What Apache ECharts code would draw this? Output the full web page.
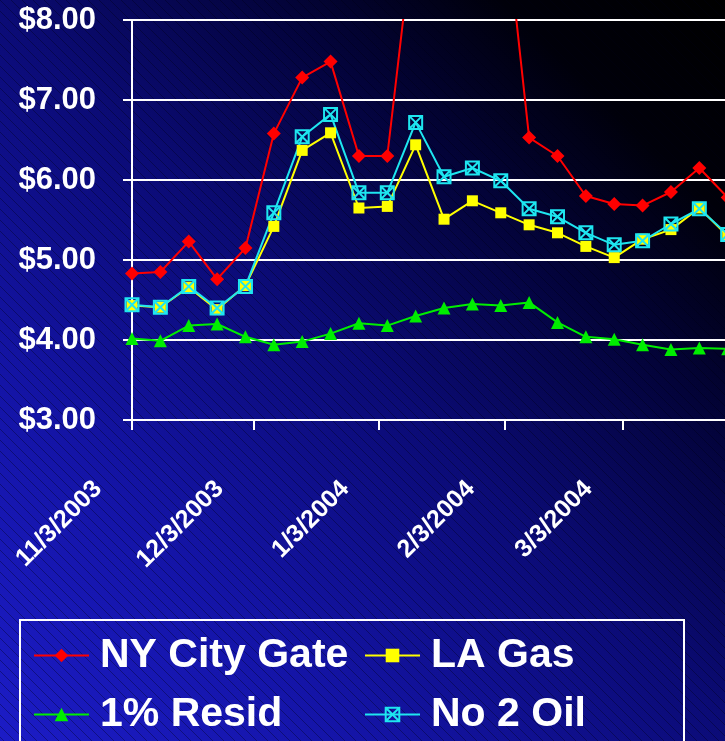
<!DOCTYPE html>
<html>
<head>
<meta charset="utf-8">
<script src="https://cdn.jsdelivr.net/npm/echarts@6/dist/echarts.min.js"></script>
<style>
  html, body { margin: 0; padding: 0; }
  #chart { width: 725px; height: 741px; }
</style>
</head>
<body>
<div id="chart"></div>
<script>
// weekly dates (Mondays)
const weeks = ['11/3/2003', '11/10/2003', '11/17/2003', '11/24/2003', '12/1/2003', '12/8/2003',
  '12/15/2003', '12/22/2003', '12/29/2003', '1/5/2004', '1/12/2004', '1/19/2004', '1/26/2004',
  '2/2/2004', '2/9/2004', '2/16/2004', '2/23/2004', '3/1/2004', '3/8/2004', '3/15/2004',
  '3/22/2004', '3/29/2004'];
// $ values
const nyCityGate = [4.83, 4.85, 5.23, 4.76, 5.15, 6.58, 7.28, 7.48, 6.30, 6.30, 9.35, 11.5, 12.5, 9.8,
  6.53, 6.30, 5.80, 5.70, 5.68, 5.85, 6.15, 5.78];
const laGas = [4.43, 4.41, 4.66, 4.38, 4.68, 5.42, 6.37, 6.59, 5.65, 5.67, 6.44, 5.51, 5.74, 5.59,
  5.44, 5.34, 5.17, 5.03, 5.26, 5.38, 5.65, 5.30];
const resid = [4.02, 3.99, 4.18, 4.20, 4.04, 3.94, 3.98, 4.08, 4.21, 4.18, 4.30, 4.40, 4.45, 4.43,
  4.47, 4.22, 4.04, 4.01, 3.94, 3.88, 3.90, 3.89];
const no2Oil = [4.44, 4.41, 4.67, 4.40, 4.67, 5.59, 6.54, 6.82, 5.84, 5.84, 6.72, 6.04, 6.15, 5.99,
  5.64, 5.54, 5.34, 5.19, 5.24, 5.45, 5.64, 5.32];
// x axis tick labels
const tickDates = ['11/3/2003', '12/3/2003', '1/3/2004', '2/3/2004', '3/3/2004'];

function toTime(s) {
  const [m, d, y] = s.split('/').map(Number);
  return Date.UTC(y, m - 1, d);
}
function fmtDate(t) {
  const d = new Date(t);
  return (d.getUTCMonth() + 1) + '/' + d.getUTCDate() + '/' + d.getUTCFullYear();
}
const pairs = arr => arr.map((v, i) => [toTime(weeks[i]), v]);

// faint diagonal hatching over the background
const hatch = document.createElement('canvas');
hatch.width = 11; hatch.height = 11;
const hc = hatch.getContext('2d');
hc.strokeStyle = 'rgba(0,0,20,0.35)';
hc.lineWidth = 1;
hc.beginPath(); hc.moveTo(-1, -1); hc.lineTo(12, 12); hc.stroke();

const font = "'Liberation Sans', Arial, sans-serif";
const boxX = 'path://M1,1H19V19H1Z M1,1L19,19 M19,1L1,19';

var myChart = echarts.init(document.getElementById('chart'));
var option = {
  backgroundColor: new echarts.graphic.LinearGradient(0, 1, 1, 0, [
    { offset: 0, color: '#1c1cc6' },
    { offset: 0.25, color: '#1414a6' },
    { offset: 0.5, color: '#0b0b76' },
    { offset: 0.7, color: '#03033a' },
    { offset: 0.85, color: '#00000a' },
    { offset: 1, color: '#000000' }
  ]),
  animation: false,
  graphic: [{
    type: 'rect', z: -10, silent: true,
    shape: { x: 0, y: 0, width: 725, height: 741 },
    style: { fill: { image: hatch, repeat: 'repeat' } }
  }],
  grid: { left: 132, top: 20, width: 620, height: 400, outerBoundsMode: 'none', containLabel: false },
  xAxis: {
    type: 'value',
    min: toTime('11/3/2003'),
    max: toTime('4/4/2004'),
    axisLine: { lineStyle: { color: '#fff', width: 2 } },
    axisTick: {
      length: 10, lineStyle: { color: '#fff', width: 2 },
      customValues: tickDates.map(toTime)
    },
    axisLabel: {
      customValues: tickDates.map(toTime),
      formatter: v => fmtDate(v),
      rotate: 45,
      margin: 31,
      padding: [0, 48, 0, 0],
      color: '#fff', fontSize: 25, fontWeight: 'bold', fontFamily: font
    },
    splitLine: { show: false }
  },
  yAxis: {
    type: 'value',
    min: 3, max: 8, interval: 1,
    axisLine: { show: true, lineStyle: { color: '#fff', width: 2 } },
    axisTick: { show: true, length: 9, lineStyle: { color: '#fff', width: 2 } },
    axisLabel: {
      formatter: v => '$' + v.toFixed(2),
      margin: 36,
      color: '#fff', fontSize: 31, fontWeight: 'bold', fontFamily: font
    },
    splitLine: { lineStyle: { color: '#fff', width: 2 } }
  },
  legend: {
    data: ['NY City Gate', 'LA Gas', '1% Resid', 'No 2 Oil'],
    left: 20, top: 620, width: 700,
    padding: [13, 3, 13, 13],
    borderColor: '#fff', borderWidth: 2,
    itemWidth: 55, itemHeight: 17, itemGap: 14,
    textStyle: {
      color: '#fff', fontSize: 41, fontWeight: 'bold', fontFamily: font,
      width: 250, lineHeight: 45, padding: [0, 0, 0, 6]
    }
  },
  series: [
    {
      name: 'NY City Gate', type: 'line', data: pairs(nyCityGate),
      symbol: 'diamond', symbolSize: 14,
      itemStyle: { color: '#ff0000' }, lineStyle: { color: '#ff0000', width: 2 }
    },
    {
      name: 'LA Gas', type: 'line', data: pairs(laGas),
      symbol: 'rect', symbolSize: 11,
      itemStyle: { color: '#ffff00' }, lineStyle: { color: '#ffff00', width: 2 }
    },
    {
      name: '1% Resid', type: 'line', data: pairs(resid),
      symbol: 'triangle', symbolSize: 13,
      itemStyle: { color: '#00ee00' }, lineStyle: { color: '#00ee00', width: 2 }
    },
    {
      name: 'No 2 Oil', type: 'line', data: pairs(no2Oil),
      symbol: boxX, symbolSize: 13,
      itemStyle: { color: 'transparent', borderColor: '#1ee6f0', borderWidth: 2 },
      lineStyle: { color: '#1ee6f0', width: 2 }
    }
  ]
};
option && myChart.setOption(option);
</script>
</body>
</html>
